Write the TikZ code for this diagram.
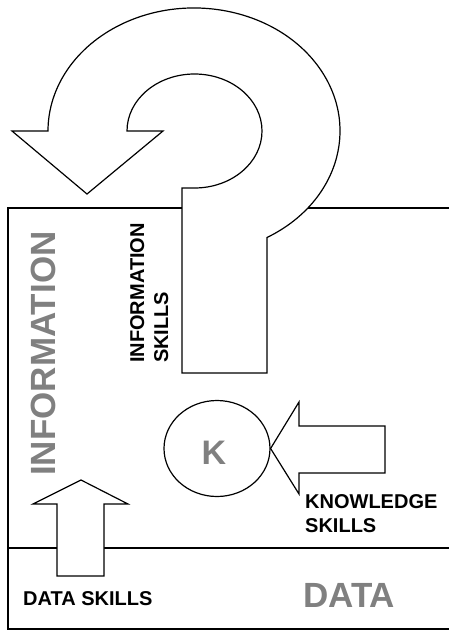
\documentclass[tikz,border=0pt]{standalone}
\usepackage{fontspec}
\setmainfont{Liberation Sans}
\newfontfamily\lsbold{Liberation Sans Bold}
\usepackage{tikz}
\usetikzlibrary{positioning,shapes.geometric}
\definecolor{labelgray}{RGB}{128,128,128}

\begin{document}
\begin{tikzpicture}[
    x=1pt, y=-1pt,
    frameline/.style={draw=black, line width=1.2pt},
    blockarrow/.style={draw=black, fill=white, line width=1.2pt, line join=miter},
    kcircle/.style={ellipse, draw=black, line width=1.2pt, minimum width=106pt, minimum height=96pt, inner sep=0pt},
    biglbl/.style={font=\lsbold\fontsize{35}{40}\selectfont, text=labelgray, inner sep=0pt},
    skilllbl/.style={font=\lsbold\fontsize{20}{24}\selectfont, text=black, inner sep=0pt, align=left}
]
\useasboundingbox (0,0) rectangle (449,630);

% Frame: information area and data band
\draw[frameline] (449,208) -- (8,208) -- (8,629) -- (449,629);
\draw[frameline] (8,548) -- (449,548);

% Question-mark arrow (information skills)
\draw[blockarrow] (12,131) -- (87,194) -- (163,131) -- (127,131)
    arc[start angle=180, end angle=450, x radius=67.5, y radius=57]
    -- (182,188) -- (182,373) -- (267,373) -- (267,237.5)
    arc[start angle=60, end angle=-180, x radius=146, y radius=123]
    -- cycle;

% Data skills arrow
\draw[blockarrow] (57,576) -- (57,504) -- (33,504) -- (81,480) -- (128,504)
    -- (104,504) -- (104,576) -- cycle;

% Knowledge
\node[kcircle] (kcirc) at (217,448.5) {};
\node[biglbl, font=\lsbold\fontsize{34}{40}\selectfont] (ktext) at (214,453) {K};

% Knowledge skills arrow
\draw[blockarrow] (kcirc.east) -- (299,402) -- (299,426) -- (385,426)
    -- (385,473) -- (299,473) -- (299,494) -- cycle;

% Labels
\node[biglbl, rotate=90, anchor=base west] (infolbl) at (55,476) {INFORMATION};
\node[biglbl, anchor=base west] (datalbl) at (303,607) {DATA};
\node[skilllbl, rotate=90, anchor=north west] (infoskills) at (130,363) {INFORMATION\\SKILLS};
\node[skilllbl, anchor=north west] (knowskills) at (305,494) {KNOWLEDGE\\SKILLS};
\node[skilllbl, anchor=base west] (dataskills) at (23,605) {DATA SKILLS};

\end{tikzpicture}
\end{document}
